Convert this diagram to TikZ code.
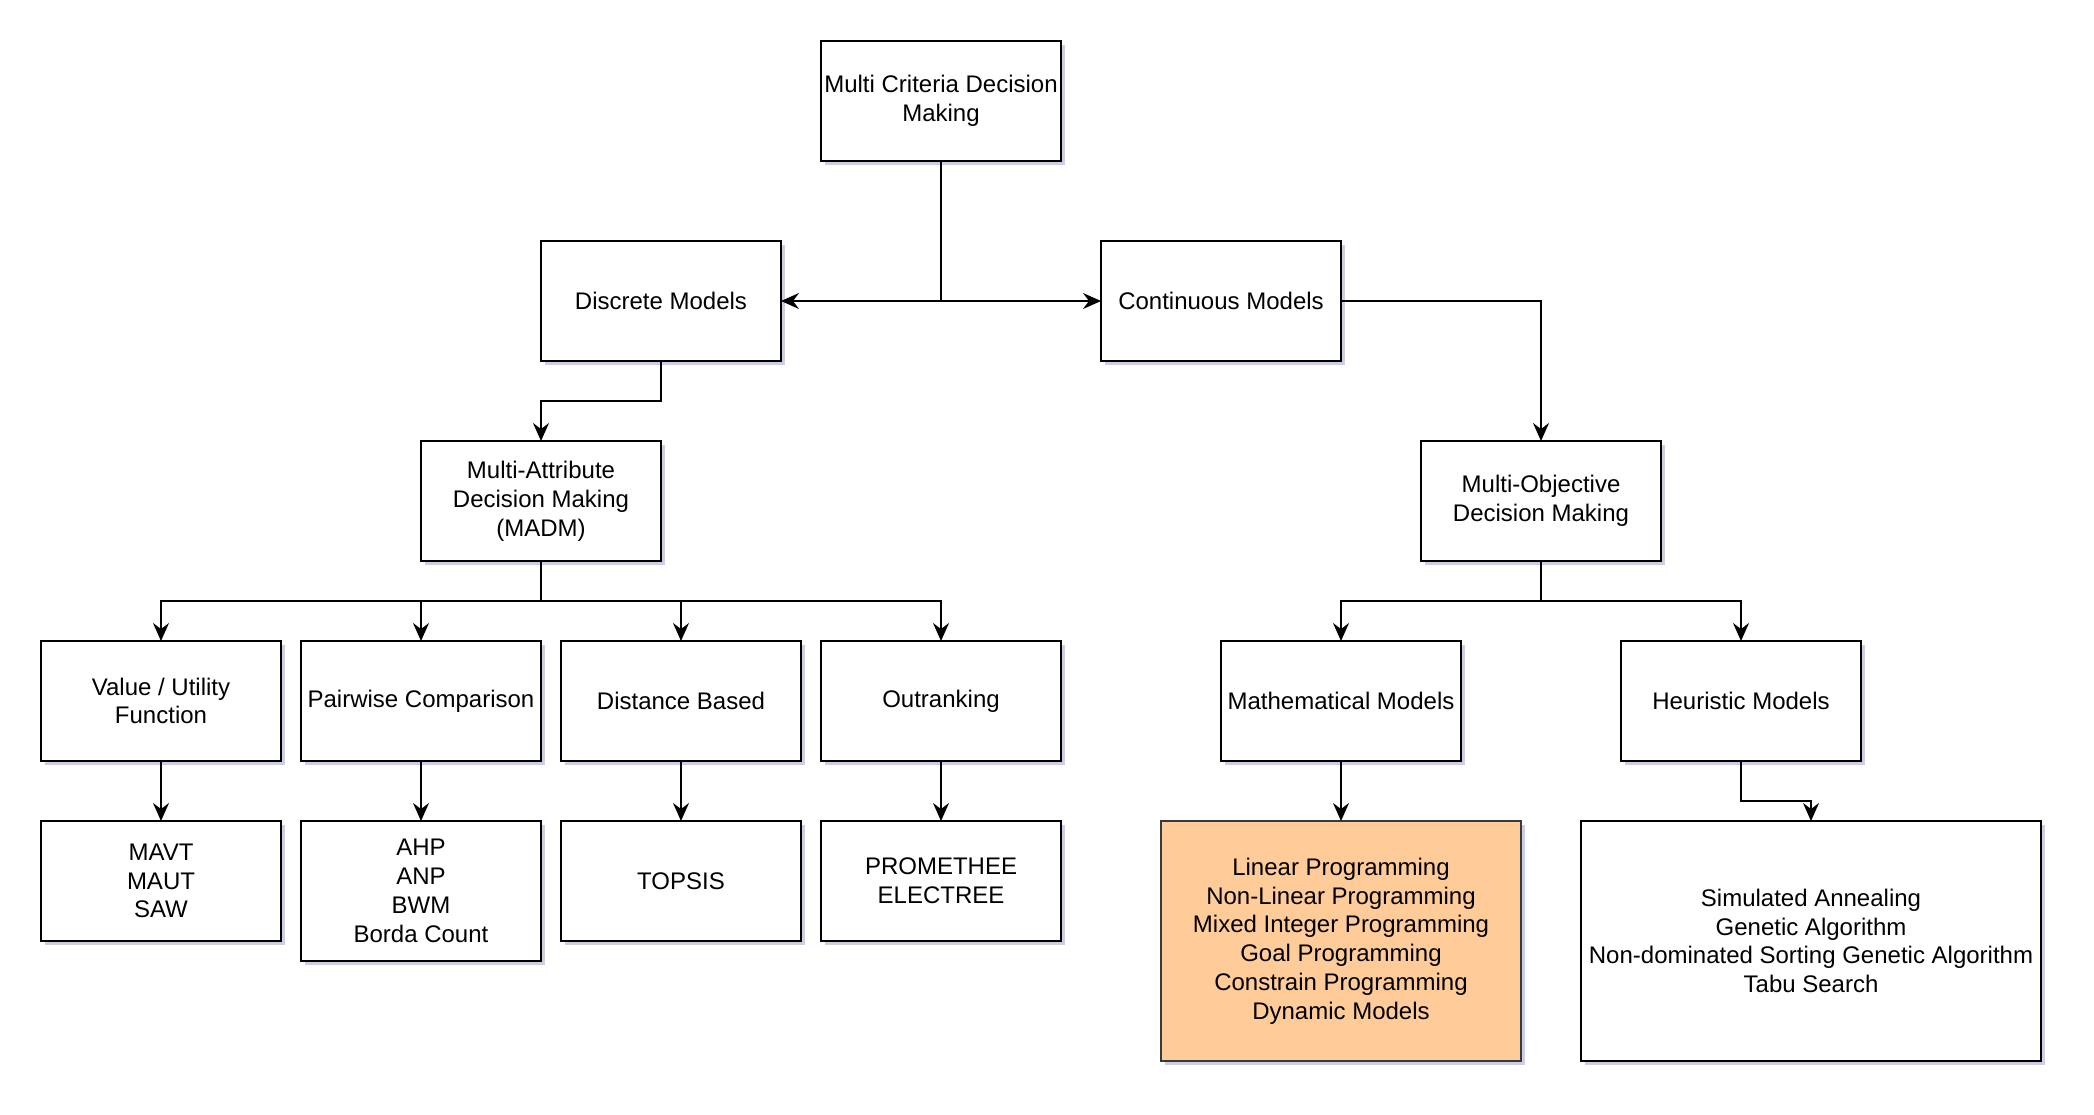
\documentclass[tikz,border=0pt]{standalone}
\usepackage{fontspec}
\setmainfont{Liberation Sans}
\usepackage{xcolor}
\usetikzlibrary{arrows.meta, positioning, shadows}

\definecolor{lpfill}{HTML}{FFCC99}
\definecolor{lpdraw}{HTML}{36393D}

\begin{document}
\begin{tikzpicture}[
  x=0.5pt, y=-0.5pt,
  every node/.style={font=\fontsize{12pt}{14.4pt}\selectfont, align=center},
  block/.style={draw, line width=1.3pt, fill=white, minimum width=120pt, minimum height=60pt,
    inner sep=1pt, outer sep=0pt,
    drop shadow={shadow xshift=2pt, shadow yshift=-2pt, fill=blue!30!gray, opacity=0.3}},
  arr/.style={-{Stealth[length=9pt, width=8pt, inset=3pt]}, line width=1pt}
]
\useasboundingbox (0,0) rectangle (2094,1114);

% Top
\node[block] (mcdm) at (941,101) {Multi Criteria Decision\\Making};
\node[block, below left=40pt and 80pt of mcdm.south] (disc) {Discrete Models};
\node[block, below right=40pt and 80pt of mcdm.south] (cont) {Continuous Models};

\draw[arr] (mcdm.south) |- (disc.east);
\draw[arr] (mcdm.south) |- (cont.west);

% Second level
\node[block, below left=40pt and 0pt of disc.south] (madm) {Multi-Attribute\\Decision Making\\(MADM)};
\node[block, right=380pt of madm] (modm) {Multi-Objective\\Decision Making};

\draw[arr] (disc.south) -- ++(0,40) -| (madm.north);
\draw[arr] (cont.east) -| (modm.north);

% Method families
\node[block, below left=40pt and 0pt of madm.south] (pair) {Pairwise Comparison};
\node[block, left=10pt of pair] (value) {Value / Utility\\Function};
\node[block, right=10pt of pair] (dist) {Distance Based};
\node[block, right=10pt of dist] (outr) {Outranking};
\node[block, below left=40pt and 40pt of modm.south] (math) {Mathematical Models};
\node[block, below right=40pt and 40pt of modm.south] (heur) {Heuristic Models};

\foreach \n in {value, pair, dist, outr}
  \draw[arr] (madm.south) -- ++(0,40) -| (\n.north);
\foreach \n in {math, heur}
  \draw[arr] (modm.south) -- ++(0,40) -| (\n.north);

% Methods
\node[block, below=30pt of value] (mavt) {MAVT\\MAUT\\SAW};
\node[block, below=30pt of pair, minimum height=70pt] (ahp) {AHP\\ANP\\BWM\\Borda Count};
\node[block, below=30pt of dist] (topsis) {TOPSIS};
\node[block, below=30pt of outr] (prom) {PROMETHEE\\ELECTREE};
\node[block, below=30pt of math, minimum width=180pt, minimum height=120pt, fill=lpfill, draw=lpdraw] (lp)
  {Linear Programming\\Non-Linear Programming\\Mixed Integer Programming\\Goal Programming\\Constrain Programming\\Dynamic Models};
\node[block, below=30pt of heur, xshift=35pt, minimum width=230pt, minimum height=120pt] (meta)
  {Simulated Annealing\\Genetic Algorithm\\Non-dominated Sorting Genetic Algorithm\\Tabu Search};

\draw[arr] (value) -- (mavt);
\draw[arr] (pair) -- (ahp);
\draw[arr] (dist) -- (topsis);
\draw[arr] (outr) -- (prom);
\draw[arr] (math) -- (lp);
\draw[arr] (heur.south) -- ++(0,40) -| (meta.north);
\end{tikzpicture}
\end{document}
